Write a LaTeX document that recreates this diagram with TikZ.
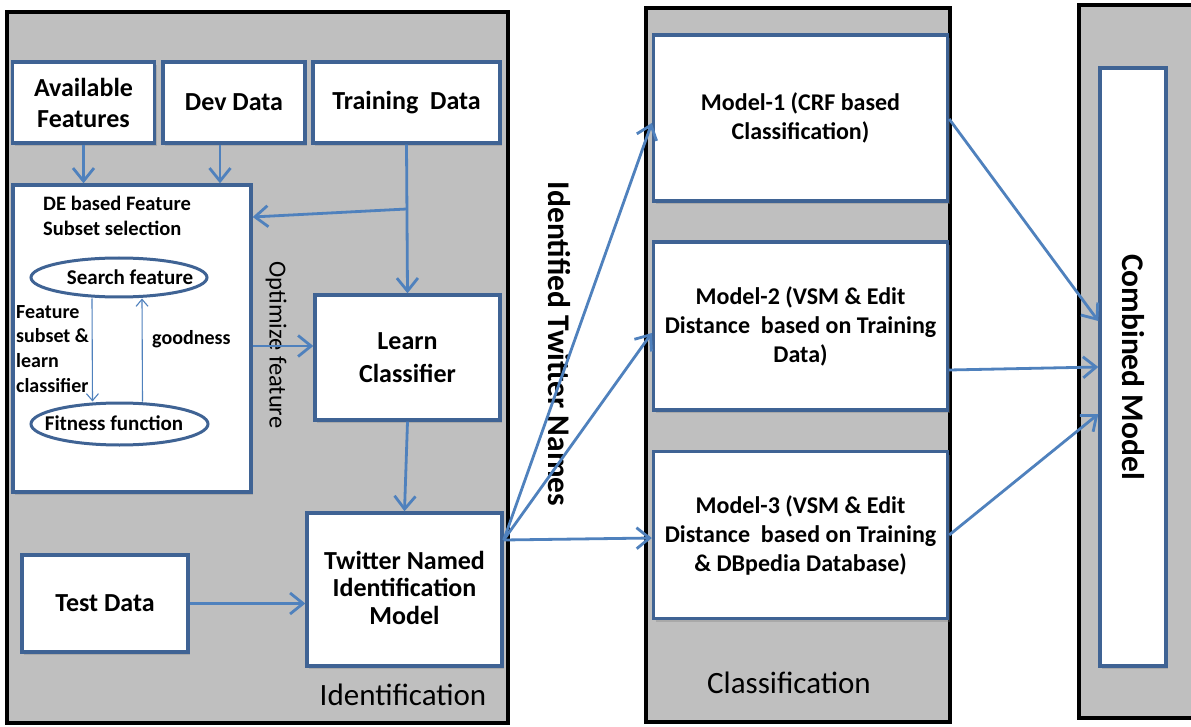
\documentclass[tikz,border=0pt]{standalone}
\usepackage{fontspec}
\setmainfont{Carlito}
\usetikzlibrary{arrows.meta,shadows,shapes.geometric}

\definecolor{panelgray}{HTML}{BFBFBF}
\definecolor{boxblue}{HTML}{3F6394}
\definecolor{flowblue}{HTML}{4F81BD}

\tikzset{
  panel/.style={draw=black, line width=3.2pt, fill=panelgray},
  box/.style={draw=boxblue, line width=3.4pt, fill=white, inner sep=0pt,
    align=center, font=\bfseries\fontsize{26}{31}\selectfont,
    drop shadow={shadow xshift=2pt, shadow yshift=-3pt, opacity=0.35}},
  oval/.style={ellipse, draw=boxblue, line width=3pt, fill=white, inner sep=0pt},
  ovaltext/.style={font=\bfseries\fontsize{21}{25}\selectfont, inner sep=0pt},
  modelbox/.style={box, font=\bfseries\fontsize{24}{29}\selectfont},
  flow/.style={draw=flowblue, line width=2.8pt,
    -{Straight Barb[length=13pt,width=21pt,line width=2.8pt]}},
  thinflow/.style={draw=flowblue, line width=1.1pt,
    -{Straight Barb[length=7pt,width=12pt,line width=1.1pt]}},
  caption/.style={font=\fontsize{31}{36}\selectfont},
  bigbold/.style={font=\bfseries\fontsize{31.5}{36}\selectfont},
  small/.style={font=\bfseries\fontsize{20.5}{25}\selectfont, align=left, inner sep=0pt}
}

\begin{document}
\begin{tikzpicture}[x=1pt,y=-1pt]
\clip (0,0) rectangle (1191,727);
\useasboundingbox (0,0) rectangle (1191,727);
\fill[white] (0,0) rectangle (1191,727);

% three stage panels
\draw[panel] (7,12) rectangle (508,723);
\draw[panel] (646,8) rectangle (950,722);
\draw[panel] (1079,5) rectangle (1200,718);

% identification stage
\node[box, minimum width=142, minimum height=81] (avail) at (83.5,102.5) {Available\\Features};
\node[box, minimum width=142, minimum height=81] (dev) at (234,102.5) {Dev Data};
\node[box, minimum width=187, minimum height=81] (train) at (406.5,102.5) {Training\ \ Data};

\node[box, minimum width=238, minimum height=307] (de) at (132,338.5) {};
\node[small, anchor=north west] (detitle) at (43,196) {DE based Feature\\Subset selection};
\node[oval, minimum width=176, minimum height=39] (search) at (119,277.5) {};
\node[ovaltext] (searchtxt) at (130,277.5) {Search feature};
\node[oval, minimum width=177, minimum height=42] (fit) at (119.5,424) {};
\node[ovaltext] (fittxt) at (114,423) {Fitness function};
\node[small, anchor=north west, font=\bfseries\fontsize{20}{24.7}\selectfont] (subset) at (16,305) {Feature\\subset \&\\learn\\classifier};
\node[small, anchor=west, font=\bfseries\fontsize{20}{24}\selectfont] (good) at (152,339) {goodness};

\node[box, minimum width=185, minimum height=125, font=\bfseries\fontsize{26}{33}\selectfont] (learn) at (407.5,357.5) {Learn\\Classifier};
\node[box, minimum width=195, minimum height=153, font=\bfseries\fontsize{26}{27.5}\selectfont] (tnim) at (404.5,589.5) {Twitter Named\\Identification\\Model\rule[-4pt]{0pt}{0pt}};
\node[box, minimum width=166, minimum height=97] (test) at (105,603.5) {Test\ Data};

\node[font=\fontsize{24.5}{28}\selectfont, rotate=-90] (optlab) at (276,345) {Optimize feature};
\node[caption] (idlab) at (403,695) {Identification};

% classification stage
\node[modelbox, minimum width=294, minimum height=166] (m1) at (800.5,118) {Model-1 (CRF based\\Classification)};
\node[modelbox, minimum width=294, minimum height=168] (m2) at (800.5,326) {Model-2 (VSM \& Edit\\Distance\ \ based on Training\\Data)};
\node[modelbox, minimum width=294, minimum height=167] (m3) at (800.5,535) {Model-3 (VSM \& Edit\\Distance\ \ based on Training\\\& DBpedia Database)};
\node[caption] (cllab) at (789,683) {Classification};

\node[bigbold, rotate=-90] (itn) at (559,344) {Identified Twitter Names};

% combination stage
\node[box, minimum width=66, minimum height=598, font=\bfseries\fontsize{31.5}{36}\selectfont] (comb) at (1133,367) {\rotatebox{-90}{Combined Model}};

% connectors
\draw[flow] (avail.south) -- (avail.south |- de.north);
\draw[flow] ([xshift=-14pt]dev.south) -- ([xshift=-14pt]dev.south |- de.north);
\coordinate (split) at (train.south |- 0,209);
\draw[flow] (train.south) -- (learn.north);
\draw[flow] (split) -- (de.east |- 0,217);
\draw[thinflow] ([xshift=-27pt]search.south) -- ([xshift=-27pt]fit.north);
\draw[thinflow] ([xshift=23pt]fit.north) -- ([xshift=23pt]search.south);
\draw[flow] (de.east |- 0,346) -- (learn.west |- 0,346);
\draw[flow] (learn.south) -- (tnim.north);
\draw[flow] (test.east) -- (test.east -| tnim.west);

\coordinate (out) at (tnim.east |- 0,540);
\draw[flow] (out) -- (m1.west |- 0,123);
\draw[flow] (out) -- (m2.west |- 0,333);
\draw[flow] (out) -- (m3.west |- 0,538);

\draw[flow] (m1.east |- 0,119) -- (comb.west |- 0,321);
\draw[flow] (m2.east |- 0,370) -- (comb.west |- 0,367);
\draw[flow] (m3.east |- 0,535) -- (comb.west |- 0,414);
\end{tikzpicture}
\end{document}
